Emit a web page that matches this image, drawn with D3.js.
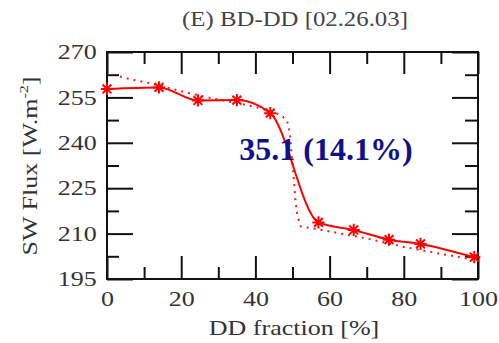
<!DOCTYPE html>
<html>
<head>
<meta charset="utf-8">
<script src="https://cdn.jsdelivr.net/npm/d3@7"></script>
<style>
  body { margin: 0; background: #fff; }
  svg text { font-family: "Liberation Serif", "Times New Roman", serif; }
  /* las fuentes del original son mas anchas que Times */
  .ancho { transform-box: fill-box; transform-origin: center; transform: scaleX(1.24); }
</style>
</head>
<body>
<div id="grafico"></div>
<script>
// Datos
const fraccionDD = [0, 14, 24.5, 35, 44, 57, 66.5, 76, 84.5, 99];
const flujoSW = [257.8, 258.3, 254, 254.1, 249.8, 213.7, 211.2, 208, 206.6, 202.2];

// Curva punteada (ajuste)
const ajusteX = [3.5, 7, 12, 20, 28, 38, 44, 47, 48.5, 49.3, 49.8, 50.3, 50.7, 51.3, 52.2, 55, 60, 70, 80, 90, 99.5];
const ajusteY = [261.9, 260.8, 259.6, 257, 254.8, 252.4, 250.6, 249, 247.5, 243, 236, 229, 222, 216, 212.4, 211.8, 210.7, 208.4, 205.6, 203.3, 201.3];

// Ticks
const ticksX = [0, 20, 40, 60, 80, 100];
const ticksXMenores = [10, 30, 50, 70, 90];
const ticksY = [195, 210, 225, 240, 255, 270];
const ticksYMenores = [202.5, 217.5, 232.5, 247.5, 262.5];

const titulo = "(E) BD-DD [02.26.03]";
const etiquetaX = "DD fraction [%]";
const anotacion = "35.1 (14.1%)";

const W = 499, H = 343;
const margin = {top: 52, right: 21, bottom: 64, left: 107};
const width = W - margin.left - margin.right;
const height = H - margin.top - margin.bottom;

const svg = d3.select("#grafico").append("svg")
    .attr("width", W).attr("height", H);

const g = svg.append("g")
    .attr("transform", `translate(${margin.left},${margin.top})`);

const x = d3.scaleLinear().domain([0, 100]).range([0, width]);
const y = d3.scaleLinear().domain([195, 270]).range([height, 0]);

// Ticks hacia adentro en los cuatro lados
function ticks(eje, valores, largo) {
    return eje.tickValues(valores).tickSize(-largo).tickFormat("");
}
const grupos = [
    [ticks(d3.axisBottom(x), ticksX, 23), `translate(0,${height})`],
    [ticks(d3.axisBottom(x), ticksXMenores, 12), `translate(0,${height})`],
    [ticks(d3.axisTop(x), ticksX, 22), null],
    [ticks(d3.axisTop(x), ticksXMenores, 12), null],
    [ticks(d3.axisLeft(y), ticksY, 26), null],
    [ticks(d3.axisLeft(y), ticksYMenores, 12), null],
    [ticks(d3.axisRight(y), ticksY, 26), `translate(${width},0)`],
    [ticks(d3.axisRight(y), ticksYMenores, 13), `translate(${width},0)`]
];
grupos.forEach(([eje, tr]) => {
    const a = g.append("g").call(eje);
    if (tr) a.attr("transform", tr);
    a.select(".domain").remove();
    a.selectAll("line").attr("stroke", "#111").attr("stroke-width", 2);
});

// Etiquetas de los ejes
const ejeX = g.append("g").attr("transform", `translate(0,${height})`)
    .call(d3.axisBottom(x).tickValues(ticksX).tickSize(0).tickPadding(12));
ejeX.select(".domain").remove();
ejeX.selectAll("text").attr("class", "ancho")
    .attr("font-size", 21).attr("font-family", "Liberation Serif").attr("fill", "#333");

const ejeY = g.append("g")
    .call(d3.axisLeft(y).tickValues(ticksY).tickSize(0).tickPadding(14));
ejeY.select(".domain").remove();
ejeY.selectAll("text").attr("class", "ancho")
    .attr("font-size", 21).attr("font-family", "Liberation Serif").attr("fill", "#333");

// Marco
g.append("rect")
    .attr("width", width).attr("height", height)
    .attr("fill", "none").attr("stroke", "#111").attr("stroke-width", 2);

// Curva punteada
const puntosAjuste = ajusteX.map((v, i) => ({x: v, y: ajusteY[i]}));
g.append("path")
    .attr("d", d3.line().x(d => x(d.x)).y(d => y(d.y))(puntosAjuste))
    .attr("fill", "none").attr("stroke", "#ff1a1a")
    .attr("stroke-width", 2).attr("stroke-dasharray", "2,5");

// Linea con marcadores
const puntos = fraccionDD.map((v, i) => ({x: v, y: flujoSW[i]}));
g.append("path")
    .attr("d", d3.line().x(d => x(d.x)).y(d => y(d.y)).curve(d3.curveMonotoneX)(puntos))
    .attr("fill", "none").attr("stroke", "#ff0000").attr("stroke-width", 2);

// Asterisco (+ y x superpuestos)
const asterisco = {
    draw(ctx, size) {
        const r = Math.sqrt(size) / 2, t = r * 0.72;
        ctx.moveTo(-r, 0); ctx.lineTo(r, 0);
        ctx.moveTo(0, -r); ctx.lineTo(0, r);
        ctx.moveTo(-t, -t); ctx.lineTo(t, t);
        ctx.moveTo(-t, t); ctx.lineTo(t, -t);
    }
};
g.selectAll(".marcador").data(puntos).enter()
    .append("path")
    .attr("class", "marcador")
    .attr("transform", d => `translate(${x(d.x)},${y(d.y)})`)
    .attr("d", d3.symbol().type(asterisco).size(150))
    .attr("fill", "none").attr("stroke", "#ff0000").attr("stroke-width", 2);

// Anotacion
svg.append("text")
    .attr("x", 326).attr("y", 160)
    .attr("text-anchor", "middle")
    .attr("font-size", 32).attr("font-weight", "bold")
    .attr("fill", "#10108a")
    .text(anotacion);

// Titulo
svg.append("text").attr("class", "ancho")
    .attr("x", 295).attr("y", 26)
    .attr("text-anchor", "middle")
    .attr("font-size", 20).attr("fill", "#444")
    .text(titulo);

// Titulo eje X
svg.append("text").attr("class", "ancho")
    .attr("x", 294).attr("y", 335)
    .attr("text-anchor", "middle")
    .attr("font-size", 21).attr("fill", "#333")
    .text(etiquetaX);

// Titulo eje Y (rotado en un grupo para que el scaleX actue a lo largo del texto)
const gy = svg.append("g").attr("transform", "translate(37,166) rotate(-90)");
const ty = gy.append("text").attr("class", "ancho")
    .attr("text-anchor", "middle")
    .attr("font-size", 21).attr("fill", "#333");
ty.append("tspan").text("SW Flux [W.m");
ty.append("tspan").attr("dy", -9).attr("font-size", 13).text("-2");
ty.append("tspan").attr("dy", 9).text("]");
</script>
</body>
</html>
